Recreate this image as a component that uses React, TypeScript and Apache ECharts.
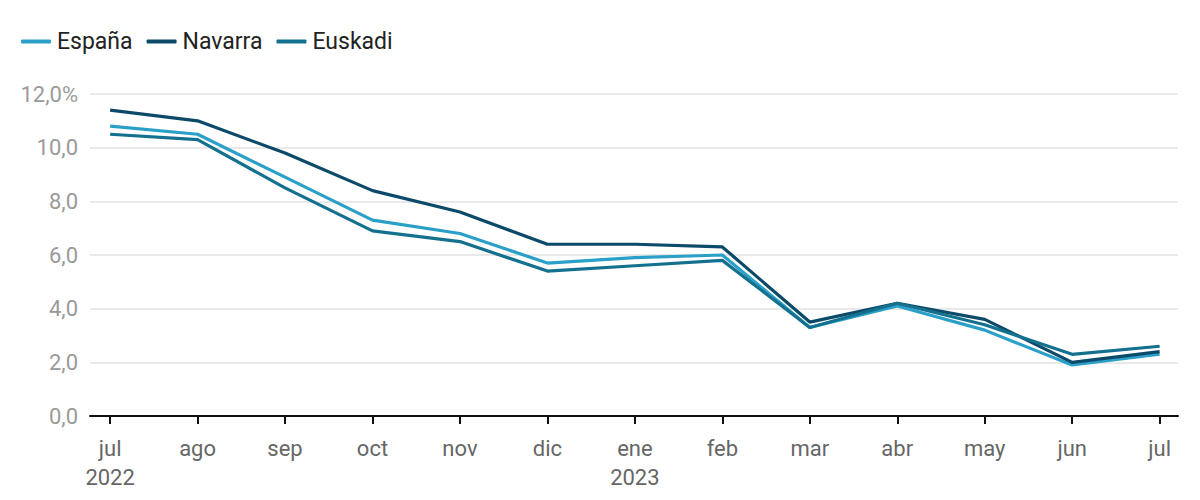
import React, { useEffect, useRef } from "react";
import * as echarts from "echarts";

const months = ["jul", "ago", "sep", "oct", "nov", "dic", "ene", "feb", "mar", "abr", "may", "jun", "jul"];
const monthLabels = ["jul\n2022", "ago", "sep", "oct", "nov", "dic", "ene\n2023", "feb", "mar", "abr", "may", "jun", "jul"];
const espana = [10.8, 10.5, 8.9, 7.3, 6.8, 5.7, 5.9, 6.0, 3.3, 4.1, 3.2, 1.9, 2.3];
const navarra = [11.4, 11.0, 9.8, 8.4, 7.6, 6.4, 6.4, 6.3, 3.5, 4.2, 3.6, 2.0, 2.4];
const euskadi = [10.5, 10.3, 8.5, 6.9, 6.5, 5.4, 5.6, 5.8, 3.3, 4.2, 3.4, 2.3, 2.6];
const yTicks = [0, 2, 4, 6, 8, 10, 12];

const FONT = "Roboto, 'Noto Sans', sans-serif";

export default function App() {
  const ref = useRef<HTMLDivElement>(null);
  useEffect(() => {
    if (!ref.current) return;
    const chart = echarts.init(ref.current, undefined, { renderer: "svg" });
    const toPairs = (arr: number[]) => arr.map((v, i) => [i, v]);
    const idx = months.map((_, i) => i);
    chart.setOption({
      animation: false,
      textStyle: { fontFamily: FONT },
      legend: {
        left: 16,
        top: 25,
        icon: "roundRect",
        itemWidth: 30,
        itemHeight: 4,
        itemGap: 14,
        textStyle: { fontSize: 23, color: "#222", fontFamily: FONT, padding: [0, 0, 0, 1] },
        data: ["España", "Navarra", "Euskadi"],
      },
      grid: { left: 90, right: 22, top: 94, bottom: 84 },
      xAxis: {
        type: "value",
        min: -0.23,
        max: 12.21,
        axisLine: { show: true, lineStyle: { color: "#111", width: 2 } },
        axisTick: { show: true, length: 8, lineStyle: { color: "#111", width: 2 }, customValues: idx },
        axisLabel: {
          customValues: idx,
          formatter: (v: number) => monthLabels[Math.round(v)] ?? "",
          color: "#666",
          fontSize: 22,
          margin: 18,
          lineHeight: 29,
          fontFamily: FONT,
        },
        splitLine: { show: false },
      },
      yAxis: {
        type: "value",
        min: 0,
        max: 12,
        interval: 2,
        axisLine: { show: false },
        axisTick: { show: false },
        axisLabel: {
          customValues: yTicks,
          formatter: (v: number) => (v === 12 ? "12,0%" : v.toFixed(1).replace(".", ",")),
          color: "#9a9a9a",
          fontSize: 22,
          margin: 12,
          fontFamily: FONT,
        },
        splitLine: { show: true, lineStyle: { color: "#e2e2e2", width: 1.5 } },
      },
      series: [
        {
          name: "España",
          type: "line",
          data: toPairs(espana),
          symbol: "none",
          lineStyle: { width: 3.2, color: "#2aa0c8" },
          itemStyle: { color: "#2aa0c8" },
        },
        {
          name: "Navarra",
          type: "line",
          data: toPairs(navarra),
          symbol: "none",
          lineStyle: { width: 3.2, color: "#0c4a69" },
          itemStyle: { color: "#0c4a69" },
        },
        {
          name: "Euskadi",
          type: "line",
          data: toPairs(euskadi),
          symbol: "none",
          lineStyle: { width: 3.2, color: "#13718f" },
          itemStyle: { color: "#13718f" },
        },
      ],
    });
    return () => chart.dispose();
  }, []);
  return (
    <div
      ref={ref}
      style={{ position: "absolute", left: 0, top: 0, width: 1200, height: 500, background: "#fff" }}
    />
  );
}
